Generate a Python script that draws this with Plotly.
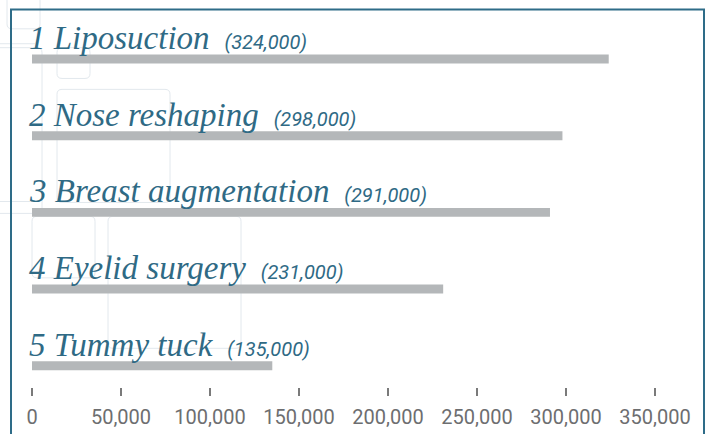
import plotly.graph_objects as go

procedures = ["Liposuction", "Nose reshaping", "Breast augmentation", "Eyelid surgery", "Tummy tuck"]
counts = [324000, 298000, 291000, 231000, 135000]
ranks = [1, 2, 3, 4, 5]
tick_values = [0, 50000, 100000, 150000, 200000, 250000, 300000, 350000]

W, H = 705, 434
L, R, T, B = 32, 700, 9, 390  # plot area in pixels
X_MAX = 350000 * (R - L) / 623.0
Y_TOP = -(59.5 - T) / 77.25
Y_BOT = (B - 59.5) / 77.25

def px(x):
    return (x - L) / (R - L)

def py(y):
    return (B - y) / (B - T)

def rrect(x0, y0, x1, y1, r=5):
    a, b, c, d = px(x0), px(x1), py(y0), py(y1)
    rx = r / (R - L)
    ry = r / (B - T)
    return (f"M {a+rx},{c} L {b-rx},{c} Q {b},{c} {b},{c-ry} L {b},{d+ry} Q {b},{d} {b-rx},{d} "
            f"L {a+rx},{d} Q {a},{d} {a},{d+ry} L {a},{c-ry} Q {a},{c} {a+rx},{c} Z")

ypos = list(range(len(procedures)))

fig = go.Figure()
fig.add_trace(go.Bar(
    x=counts, y=ypos, orientation="h", width=0.117,
    marker=dict(color="#b4b7b9", line=dict(width=0)),
    hoverinfo="skip",
))

NAME_FONT = "Liberation Serif, DejaVu Serif, serif"
VAL_FONT = "Roboto, sans-serif"
TEAL = "#2f6a85"

annotations = []
for r, name, cnt, y in zip(ranks, procedures, counts, ypos):
    txt = (f"<i>{r} {name}</i>"
           f"<span style='font-family:Roboto;font-size:20px'>&nbsp;&nbsp;&nbsp;<i>({cnt:,})</i></span>")
    annotations.append(dict(
        x=0, y=y, xref="x", yref="y", text=txt, showarrow=False,
        xanchor="left", yanchor="bottom", xshift=-5, yshift=1,
        font=dict(family=NAME_FONT, size=33, color=TEAL),
    ))

shapes = []
faint = dict(color="#e2e8ed", width=1)
for (x0, y0, x1, y1) in [(7, -5, 40, 29), (57, 48, 90, 79), (57, 90, 170, 204),
                         (32, 218, 95, 280), (108, 218, 241, 351), (-10, 48, 42, 215)]:
    shapes.append(dict(type="path", xref="paper", yref="paper", path=rrect(x0, y0, x1, y1),
                       line=faint, layer="below"))
for yy, x1 in [(44, 35), (203, 30)]:
    shapes.append(dict(type="line", xref="paper", yref="paper", x0=px(0), x1=px(x1),
                       y0=py(yy), y1=py(yy), line=faint, layer="below"))
# frame
shapes.append(dict(type="rect", xref="paper", yref="paper", x0=px(11), x1=px(704),
                   y0=py(460), y1=py(9.5), line=dict(color="#2e6c88", width=2), layer="below"))

fig.update_layout(
    width=W, height=H,
    margin=dict(l=L, r=W - R, t=T, b=H - B, pad=0),
    paper_bgcolor="white", plot_bgcolor="rgba(0,0,0,0)",
    showlegend=False,
    xaxis=dict(range=[0, X_MAX], tickvals=tick_values, tickformat=",",
               showgrid=False, zeroline=False, showline=False,
               ticks="outside", ticklen=8, tickwidth=2, tickcolor="#7a7a7a",
               ticklabelstandoff=4,
               tickfont=dict(family=VAL_FONT, size=20, color="#6d6e70"), fixedrange=True),
    yaxis=dict(range=[Y_BOT, Y_TOP], visible=False, fixedrange=True),
    annotations=annotations, shapes=shapes,
)

fig.write_html("out.html", config={"displayModeBar": False},
               post_script="document.body.style.margin='0';document.body.style.overflow='hidden';")
